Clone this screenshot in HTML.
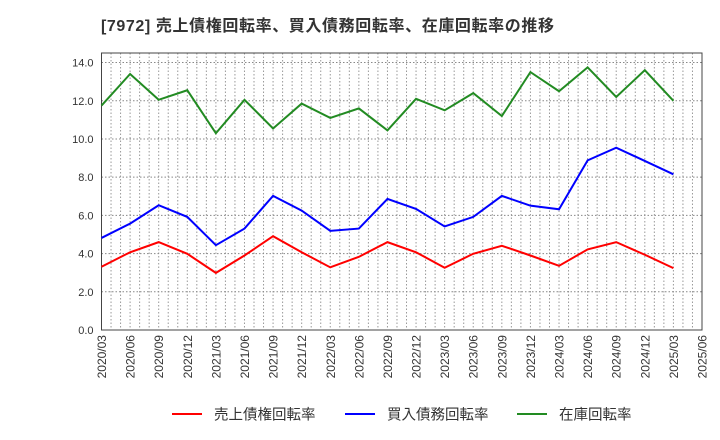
<!DOCTYPE html>
<html><head><meta charset="utf-8"><style>
body{margin:0;background:#fff;}
svg{display:block;font-family:"Liberation Sans","Noto Sans CJK JP",sans-serif;}
</style></head><body>
<svg id="chart" width="720" height="440">
<text x="101" y="31" font-size="16" font-weight="bold" fill="#333" textLength="453" lengthAdjust="spacing">[7972]  売上債権回転率、買入債務回転率、在庫回転率の推移</text>
<g id="grid"></g><g id="axes"></g><g id="series"></g>
<g>
<line x1="172" y1="414" x2="202" y2="414" stroke="#f00" stroke-width="2"/>
<text x="214" y="419.5" font-size="14.5" fill="#333">売上債権回転率</text>
<line x1="345" y1="414" x2="375" y2="414" stroke="#00f" stroke-width="2"/>
<text x="387" y="419.5" font-size="14.5" fill="#333">買入債務回転率</text>
<line x1="517" y1="414" x2="547" y2="414" stroke="#228b22" stroke-width="2"/>
<text x="559" y="419.5" font-size="14.5" fill="#333">在庫回転率</text>
</g>
</svg>
<script>
const categories=["2020/03","2020/06","2020/09","2020/12","2021/03","2021/06","2021/09","2021/12","2022/03","2022/06","2022/09","2022/12","2023/03","2023/06","2023/09","2023/12","2024/03","2024/06","2024/09","2024/12","2025/03"];
const xTickLabels=["2020/03","2020/06","2020/09","2020/12","2021/03","2021/06","2021/09","2021/12","2022/03","2022/06","2022/09","2022/12","2023/03","2023/06","2023/09","2023/12","2024/03","2024/06","2024/09","2024/12","2025/03","2025/06"];
const yTicks=[0,2,4,6,8,10,12,14];
const yTickLabels=["0.0","2.0","4.0","6.0","8.0","10.0","12.0","14.0"];
const receivables=[3.31,4.07,4.6,3.99,2.99,3.9,4.91,4.07,3.28,3.83,4.6,4.07,3.26,3.99,4.41,3.9,3.36,4.22,4.6,3.94,3.24];
const payables=[4.82,5.57,6.53,5.92,4.44,5.31,7.02,6.25,5.19,5.31,6.86,6.34,5.42,5.92,7.02,6.51,6.32,8.88,9.54,8.85,8.15];
const inventory=[11.75,13.4,12.05,12.55,10.3,12.05,10.55,11.85,11.1,11.6,10.45,12.1,11.5,12.4,11.2,13.5,12.5,13.75,12.2,13.6,12.0];
const NS="http://www.w3.org/2000/svg";
const L=101.5,R=702,T=53,B=330,yMax=14.5,months=63;
const x=i=>L+(i*3)/months*(R-L);
const xm=m=>L+m/months*(R-L);
const y=v=>B-v/yMax*(B-T);
function mk(tag,attrs,parent){const e=document.createElementNS(NS,tag);for(const k in attrs)e.setAttribute(k,attrs[k]);parent.appendChild(e);return e;}
const grid=document.getElementById('grid'),axes=document.getElementById('axes'),series=document.getElementById('series');
for(let m=1;m<months;m++){const l=mk('line',{x1:xm(m),x2:xm(m),y1:T,y2:B,stroke:'#999','stroke-dasharray':'1.5,2','stroke-width':1},grid);

}
yTicks.forEach((v,i)=>{if(v>0){const l=mk('line',{x1:L,x2:R,y1:y(v),y2:y(v),stroke:'#888','stroke-dasharray':'1.5,2','stroke-width':1},grid);

}
const t=mk('text',{x:L-8,y:y(v)+4,'text-anchor':'end','font-size':11,fill:'#333'},axes);t.textContent=yTickLabels[i];

});
xTickLabels.forEach((s,i)=>{const px=x(i);const t=mk('text',{x:0,y:0,transform:`translate(${px+4.5},${B+5}) rotate(-90)`,'text-anchor':'end','font-size':12,fill:'#333'},axes);t.textContent=s;

});
const frame=mk('rect',{x:L,y:T,width:R-L,height:B-T,fill:'none',stroke:'#444','stroke-width':1},axes);


[[receivables,'#f00','receivables-line'],[payables,'#00f','payables-line'],[inventory,'#228b22','inventory-line']].forEach(([d,c,n])=>{
const p=mk('polyline',{points:d.map((v,i)=>x(i)+','+y(v)).join(' '),fill:'none',stroke:c,'stroke-width':2},series);

});
</script>
</body></html>
